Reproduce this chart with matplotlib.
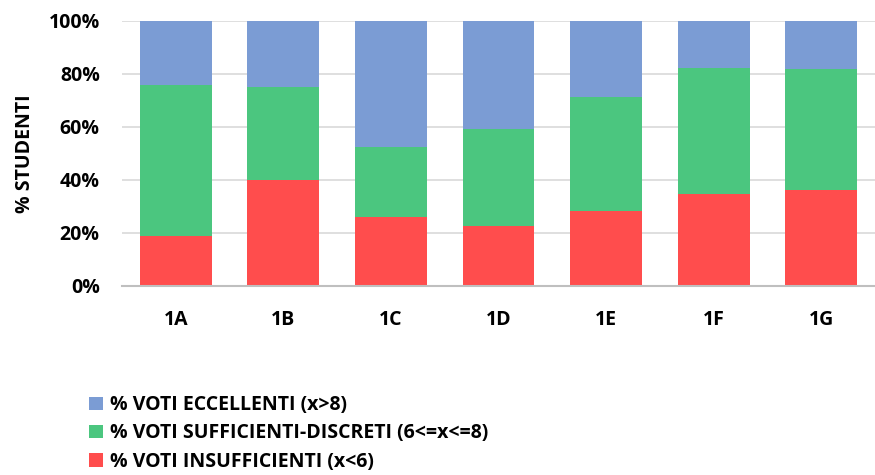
# Stacked bar chart: distribuzione dei voti per classe (percentuali)

import matplotlib.pyplot as plt
from matplotlib.ticker import PercentFormatter
import numpy as np

classi = ["1A", "1B", "1C", "1D", "1E", "1F", "1G"]
insufficienti = [19.0, 40.0, 26.2, 22.8, 28.4, 34.8, 36.2]
sufficienti = [57.0, 35.0, 26.4, 36.3, 42.8, 47.6, 45.6]
eccellenti = [24.0, 25.0, 47.4, 40.9, 28.8, 17.6, 18.2]

plt.rcParams['font.family'] = ['Open Sans', 'DejaVu Sans']
plt.rcParams['font.weight'] = 'bold'

fig = plt.figure(figsize=(8.75, 4.75), dpi=100)
ax = fig.add_axes([0.1394, 0.398, 0.8606, 0.558])

x = np.arange(len(classi))
w = 0.667
b1 = ax.bar(x, insufficienti, w, color="#FF4D4D", zorder=2,
            label="% VOTI INSUFFICIENTI (x<6)")
b2 = ax.bar(x, sufficienti, w, bottom=insufficienti, color="#4BC67F", zorder=2,
            label="% VOTI SUFFICIENTI-DISCRETI (6<=x<=8)")
bottom3 = np.array(insufficienti) + np.array(sufficienti)
b3 = ax.bar(x, eccellenti, w, bottom=bottom3, color="#7B9CD4", zorder=2,
            label="% VOTI ECCELLENTI (x>8)")

ax.set_xlim(-0.5, len(classi) - 0.5)
ax.set_ylim(0, 100)
ax.set_yticks(range(0, 101, 20))
ax.yaxis.set_major_formatter(PercentFormatter(decimals=0))
ax.set_xticks(x)
ax.set_xticklabels(classi)
ax.grid(axis='y', color="#D9D9D9", linewidth=1.2, zorder=0)
for s in ["left", "right", "top"]:
    ax.spines[s].set_visible(False)
ax.spines["bottom"].set_color("#BFBFBF")
ax.spines["bottom"].set_linewidth(1.5)
ax.spines["bottom"].set_zorder(3)
ax.tick_params(axis='both', length=0, labelsize=14)
ax.tick_params(axis='x', pad=17)
ax.tick_params(axis='y', pad=16)
for lbl in ax.get_xticklabels() + ax.get_yticklabels():
    lbl.set_fontweight('bold')
ax.set_ylabel("% STUDENTI", fontsize=14, fontweight='bold', labelpad=10)

leg = fig.legend(handles=[b3, b2, b1], loc="upper left", bbox_to_anchor=(0.102, 0.168),
                 frameon=False, handlelength=0.7, handleheight=0.7,
                 handletextpad=0.35, labelspacing=0.42, borderaxespad=0, borderpad=0,
                 prop={'size': 14, 'weight': 'bold'})

fig.savefig("out.png")
